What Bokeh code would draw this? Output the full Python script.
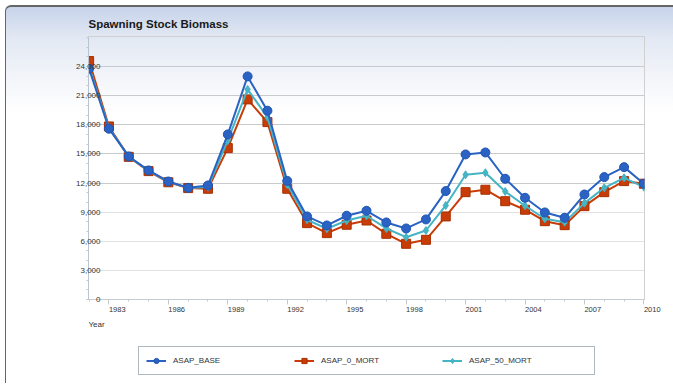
from bokeh.plotting import figure
from bokeh.layouts import column
from bokeh.models import (Range1d, FixedTicker, Grid, Legend, LegendItem, Label,
                          NumeralTickFormatter)
from bokeh.embed import file_html
from bokeh.resources import INLINE

years = list(range(1982, 2011))
asap_base = [23780, 17600, 14740, 13300, 12160, 11510, 11750, 17010, 22990, 19450,
             12220, 8560, 7630, 8630, 9140, 7940, 7320, 8250, 11170, 14950,
             15150, 12440, 10480, 8970, 8420, 10820, 12610, 13640, 11930]
asap_0_mort = [24570, 17830, 14700, 13230, 12080, 11480, 11410, 15600, 20620, 18280,
               11410, 7870, 6840, 7700, 8140, 6770, 5740, 6150, 8560, 11060,
               11310, 10130, 9250, 8070, 7660, 9620, 11060, 12200, 11930]
asap_50_mort = [23950, 17700, 14720, 13270, 12120, 11500, 11580, 16390, 21650, 18790,
                11850, 8220, 7290, 8140, 8630, 7320, 6420, 7110, 9690, 12850,
                13060, 11130, 9660, 8320, 7970, 9930, 11510, 12540, 11580]
x_ticks = [1983, 1986, 1989, 1992, 1995, 1998, 2001, 2004, 2007, 2010]
y_ticks = [0, 3000, 6000, 9000, 12000, 15000, 18000, 21000, 24000]
series_names = ["ASAP_BASE", "ASAP_0_MORT", "ASAP_50_MORT"]

BLUE = "#2a63c4"
RED = "#c83c08"
CYAN = "#45b4c4"
FONT = "Liberation Sans"


def add_series(fig):
    rl = fig.line(years, asap_0_mort, line_color=RED, line_width=2)
    rs = fig.scatter(years, asap_0_mort, marker="square", size=9, fill_color=RED,
                     line_color="#a83000", line_width=1)
    cl = fig.line(years, asap_50_mort, line_color=CYAN, line_width=2)
    cs = fig.scatter(years, asap_50_mort, marker="diamond", size=8, fill_color=CYAN,
                     line_color=CYAN)
    bl = fig.line(years, asap_base, line_color=BLUE, line_width=2)
    bs = fig.scatter(years, asap_base, marker="circle", size=9, fill_color=BLUE,
                     line_color="#1f55b0", line_width=1)
    return [(bl, bs), (rl, rs), (cl, cs)]


# ---------------- chart ----------------
p = figure(width=667, height=312, output_backend="svg", toolbar_location=None,
           x_range=Range1d(1981.97, 2010.03), y_range=Range1d(0, 27100),
           min_border_left=82, min_border_right=29, min_border_top=29, min_border_bottom=20,
           title="Spawning Stock Biomass")
p.border_fill_color = None
p.background_fill_color = None
p.outline_line_color = "#d0d0d0"

p.title.text_font = FONT
p.title.text_font_size = "11.5px"
p.title.text_font_style = "bold"
p.title.text_color = "#1a1a1a"
p.title.vertical_align = "top"
p.title.standoff = 10

# x axis; a tiny negative angle makes the labels start at their tick
xa = p.xaxis[0]
xa.ticker = FixedTicker(ticks=x_ticks, minor_ticks=years)
xa.axis_line_color = "#c4ccd6"
xa.major_tick_line_color = "#c8c8c8"
xa.minor_tick_line_color = "#c8c8c8"
xa.major_tick_in = 0
xa.major_tick_out = 5
xa.minor_tick_in = 0
xa.minor_tick_out = 2
xa.major_label_orientation = -0.0001
xa.major_label_standoff = 5
xa.major_label_text_font = FONT
xa.major_label_text_font_size = "7.5px"
xa.major_label_text_color = "#333333"

ya = p.yaxis[0]
ya.ticker = FixedTicker(ticks=y_ticks, minor_ticks=list(range(0, 27001, 1000)))
ya.formatter = NumeralTickFormatter(format="0,0")
ya.axis_line_color = "#b8c4d2"
ya.major_tick_line_color = "#c8c8c8"
ya.minor_tick_line_color = "#c8c8c8"
ya.major_tick_in = 0
ya.major_tick_out = 2
ya.minor_tick_in = 0
ya.minor_tick_out = 2
ya.major_label_text_font = FONT
ya.major_label_text_font_size = "8px"
ya.major_label_text_color = "#333333"
ya.major_label_standoff = -14

# grids
p.xgrid.visible = False
p.ygrid.ticker = FixedTicker(ticks=[12000, 15000, 18000, 21000, 24000])
p.ygrid.grid_line_color = "#c8cacc"
g2 = Grid(dimension=1, ticker=FixedTicker(ticks=[9000]), grid_line_color="#e2e2e2")
g3 = Grid(dimension=1, ticker=FixedTicker(ticks=[3000, 6000]), grid_line_color="#c4c4c4",
          grid_line_dash="1 1")
p.add_layout(g2)
p.add_layout(g3)

add_series(p)

# ---------------- footer: axis title + legend ----------------
# same series drawn again, but its ranges keep them out of view; only the legend shows
f = figure(width=667, height=64, output_backend="svg", toolbar_location=None,
           x_range=Range1d(0, 1), y_range=Range1d(0, 1),
           min_border=0, x_axis_type=None, y_axis_type=None)
f.border_fill_color = None
f.background_fill_color = None
f.outline_line_color = None
f.grid.visible = False

pairs = add_series(f)
legend = Legend(items=[LegendItem(label=name, renderers=list(rr))
                       for name, rr in zip(series_names, pairs)],
                orientation="horizontal", location=(50, 8),
                padding=7, spacing=3, margin=0,
                glyph_width=20, glyph_height=13, label_width=118, label_height=13,
                label_standoff=7, label_text_font=FONT,
                label_text_font_size="8px", label_text_color="#333333",
                border_line_color="#5f6f7f", border_line_width=1,
                background_fill_color="white", background_fill_alpha=1)
f.add_layout(legend)

f.add_layout(Label(x=0, y=59, x_units="screen", y_units="screen", text="Year",
                   text_font=FONT, text_font_size="8px", text_color="#333333",
                   text_baseline="middle"))

layout = column(p, f, spacing=0,
                styles={"margin-left": "5px", "margin-top": "5px",
                        "background": "linear-gradient(to bottom, #c6d3ea 0px, #e2e8f3 30px, #f4f6fa 75px, #ffffff 105px)",
                        "border-top": "2px solid #666666", "border-left": "1px solid #666666",
                        "border-top-left-radius": "6px"})

open("out.html", "w").write(file_html(layout, INLINE))
